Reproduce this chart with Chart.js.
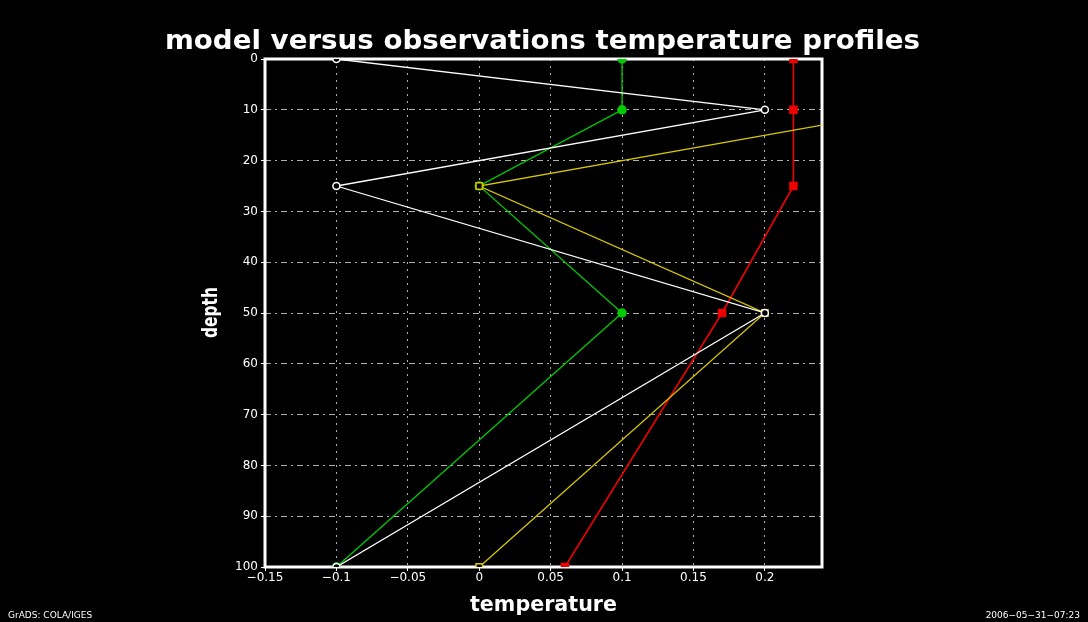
<!DOCTYPE html>
<html>
<head>
<meta charset="utf-8">
<script src="https://cdn.jsdelivr.net/npm/chart.js@4/dist/chart.umd.min.js"></script>
<style>
  html, body { margin: 0; padding: 0; background: #000; }
  #wrap { width: 1088px; height: 622px; position: relative; }
</style>
</head>
<body>
<div id="wrap"><canvas id="profiles"></canvas></div>
<script>
'use strict';

// ── DATA ────────────────────────────────────────────────────────
var depths      = [0, 10, 25, 50, 100];
var whiteTemps  = [-0.1, 0.2, -0.1, 0.2, -0.1];
var greenTemps  = [0.1, 0.1, 0, 0.1, -0.1];
var yellowTemps = [0.3, 0.3, 0, 0.2, 0];
var redTemps    = [0.22, 0.22, 0.22, 0.17, 0.06];
var xTickLabels = ['\u22120.15', '\u22120.1', '\u22120.05', '0', '0.05', '0.1', '0.15', '0.2'];

var titleText = 'model versus observations temperature profiles';
var xTitle    = 'temperature';
var yTitle    = 'depth';

function toPoints(temps) {
  return temps.map(function (t, i) { return { x: t, y: depths[i] }; });
}

// ── TEXTS & FRAME ───────────────────────────────────────────────
function stretchText(ctx, text, x, y, w, font) {
  ctx.save();
  ctx.font = font;
  var m = ctx.measureText(text).width;
  ctx.translate(x, y);
  ctx.scale(w / m, 1);
  ctx.fillText(text, 0, 0);
  ctx.restore();
}

var gradsDecor = {
  id: 'gradsDecor',
  beforeDatasetsDraw: function (chart) {
    var ctx = chart.ctx, a = chart.chartArea;
    ctx.save();
    ctx.strokeStyle = '#fff';
    ctx.lineWidth = 3;
    ctx.strokeRect(a.left, a.top, a.right - a.left, a.bottom - a.top);
    ctx.restore();
  },
  afterDraw: function (chart) {
    var ctx = chart.ctx;
    ctx.save();
    ctx.fillStyle = '#fff';
    ctx.textBaseline = 'alphabetic';
    ctx.textAlign = 'left';
    stretchText(ctx, titleText, 165, 49, 755, 'bold 27px "DejaVu Sans"');
    stretchText(ctx, xTitle, 470, 611, 147, 'bold 22px "DejaVu Sans"');

    ctx.save();
    ctx.translate(217, 338);
    ctx.rotate(-Math.PI / 2);
    stretchText(ctx, yTitle, 0, 0, 51, 'bold 22px "DejaVu Sans"');
    ctx.restore();

    ctx.font = '9px "DejaVu Sans"';
    ctx.fillText('GrADS: COLA/IGES', 8, 618);
    ctx.textAlign = 'right';
    ctx.fillText('2006\u221205\u221231\u221207:23', 1080, 618);
    ctx.restore();
  }
};

// ── CHART ───────────────────────────────────────────────────────
function series(temps, color, style, radius, filled, width, order) {
  return {
    data: toPoints(temps),
    showLine: true,
    order: order,
    borderColor: color,
    borderWidth: width,
    pointStyle: style,
    pointRadius: radius,
    pointHoverRadius: radius,
    pointBorderColor: color,
    pointBorderWidth: 1.5,
    pointBackgroundColor: filled ? color : '#000'
  };
}

var ctx = document.getElementById('profiles').getContext('2d');

new Chart(ctx, {
  type: 'scatter',
  data: {
    datasets: [
      series(whiteTemps,  '#ffffff', 'circle', 3.5, false, 1.3, 0),
      series(greenTemps,  '#00cc00', 'circle', 4,   true,  1.3, 2),
      series(yellowTemps, '#d8c800', 'rect',   4.5, false, 1.3, 1),
      series(redTemps,    '#ee0000', 'rect',   5,   true,  1.6, 3)
    ]
  },
  options: {
    responsive: true,
    maintainAspectRatio: false,
    animation: false,
    events: [],
    layout: { padding: { left: 0, right: 266, top: 59, bottom: 0 } },
    plugins: { legend: { display: false }, tooltip: { enabled: false } },
    scales: {
      x: {
        type: 'linear',
        min: -0.15,
        max: 0.24,
        afterFit: function (s) { s.height = 55; },
        afterBuildTicks: function (s) {
          s.ticks = xTickLabels.map(function (l, i) { return { value: -0.15 + i * 0.05 }; });
        },
        border: { display: false, dash: [2, 5] },
        grid: {
          color: function (c) { return (c.index === 0) ? 'rgba(0,0,0,0)' : '#b0b0b0'; },
          lineWidth: 1,
          drawTicks: true,
          tickLength: 4,
          tickColor: '#fff',
          tickBorderDash: []
        },
        ticks: {
          color: '#fff',
          font: { family: 'DejaVu Sans', size: 12 },
          padding: 0,
          maxRotation: 0,
          autoSkip: false,
          callback: function (v, i) { return xTickLabels[i]; }
        }
      },
      y: {
        type: 'linear',
        reverse: true,
        min: 0,
        max: 100,
        afterFit: function (s) { s.width = 265; },
        ticks: {
          stepSize: 10,
          color: '#fff',
          font: { family: 'DejaVu Sans', size: 12 },
          padding: 3
        },
        border: { display: false, dash: [6, 4, 2, 4] },
        grid: {
          color: function (c) {
            return (c.tick.value === 0 || c.tick.value === 100) ? 'rgba(0,0,0,0)' : '#b0b0b0';
          },
          lineWidth: 1,
          drawTicks: true,
          tickLength: 4,
          tickColor: '#fff',
          tickBorderDash: []
        }
      }
    }
  },
  plugins: [gradsDecor]
});
</script>
</body>
</html>
